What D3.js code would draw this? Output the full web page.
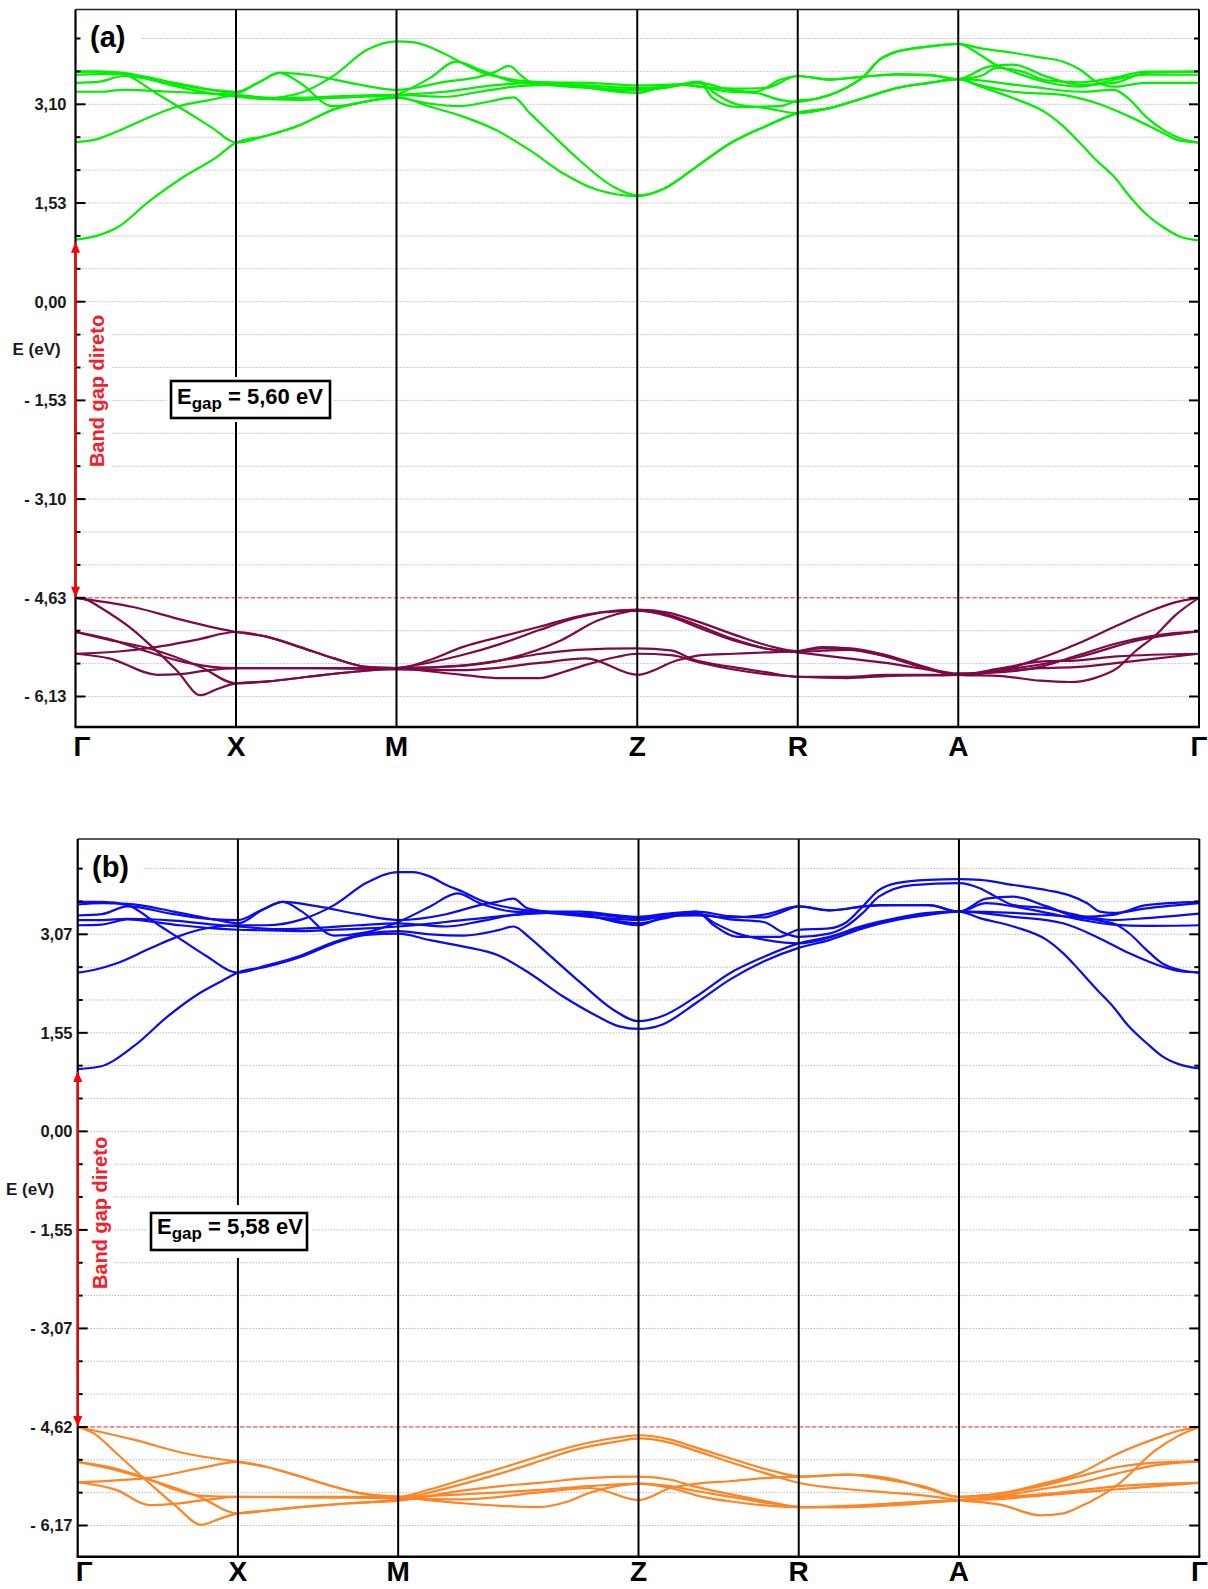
<!DOCTYPE html>
<html><head><meta charset="utf-8">
<script src="https://cdn.jsdelivr.net/npm/d3@7"></script>
<style>body{margin:0;background:#fff}svg{display:block}</style>
</head><body>
<svg id="chart" width="1208" height="1589"></svg>
<script>
// ---------------- DATA ----------------
const kLabels = ["Γ","X","M","Z","R","A","Γ"];
const kPositions = [0, 1, 2, 3.5, 4.5, 5.5, 7];

const tickValuesA = [3.10, 1.53, 0, -1.53, -3.10, -4.63, -6.13];
const tickLabelsA = ["3,10", "1,53", "0,00", "- 1,53", "- 3,10", "- 4,63", "- 6,13"];
const tickValuesB = [3.07, 1.55, 0, -1.55, -3.07, -4.62, -6.17];
const tickLabelsB = ["3,07", "1,55", "0,00", "- 1,55", "- 3,07", "- 4,62", "- 6,17"];

const gapEdgesA = [0.96, -4.63];   // CBM, VBM at Γ
const gapEdgesB = [0.98, -4.62];
const gapTextA = "5,60";
const gapTextB = "5,58";
const panelLabels = ["(a)", "(b)"];

// Conduction bands, panel (a): [k, E(eV)]
const conductionA = [
 [[0,0.96],[0.13,1.02],[0.26,1.15],[0.46,1.56],[0.67,1.94],[0.88,2.26],[1,2.49],[1.19,2.60],[1.4,2.77],[1.6,3.01],[1.8,3.14],[2,3.22],[2.21,3.06],[2.42,2.90],[2.62,2.69],[2.83,2.37],[3.04,2.00],[3.25,1.74],[3.5,1.64],[3.66,1.75],[3.87,2.11],[4.08,2.48],[4.29,2.74],[4.5,2.96],[4.7,3.04],[4.91,3.20],[5.12,3.36],[5.32,3.44],[5.5,3.50],[5.64,3.38],[5.84,3.20],[6.05,2.96],[6.15,2.76],[6.26,2.48],[6.36,2.21],[6.47,1.95],[6.57,1.63],[6.67,1.36],[6.78,1.15],[6.88,1.01],[7,0.95]],
 [[0,2.50],[0.11,2.53],[0.25,2.66],[0.42,2.85],[0.63,3.06],[0.84,3.17],[1,3.24],[1.19,3.20],[1.4,3.28],[1.6,3.54],[1.82,3.97],[2,4.10],[2.1,4.09],[2.31,3.89],[2.37,3.81],[2.52,3.62],[2.73,3.49],[2.94,3.44],[3.14,3.41],[3.5,3.36],[3.66,3.38],[3.89,3.44],[4.08,3.33],[4.24,3.30],[4.39,3.49],[4.5,3.55],[4.7,3.49],[4.91,3.54],[5.12,3.58],[5.32,3.57],[5.5,3.50],[5.69,3.70],[5.84,3.73],[6.05,3.54],[6.26,3.41],[6.47,3.44],[6.67,3.60],[7,3.62]],
 [[0,3.62],[0.15,3.62],[0.3,3.58],[0.5,3.28],[0.7,2.97],[0.85,2.73],[1,2.49],[1.19,2.60],[1.4,2.77],[1.6,3.01],[1.8,3.14],[2,3.20],[2.21,3.11],[2.39,3.07],[2.57,3.14],[2.73,3.21],[2.83,2.96],[2.94,2.69],[3.14,2.21],[3.35,1.79],[3.5,1.65],[3.66,1.75],[3.87,2.11],[4.08,2.48],[4.29,2.74],[4.5,2.96],[4.7,3.04],[4.91,3.20],[5.12,3.36],[5.32,3.44],[5.5,3.50],[5.64,3.40],[5.84,3.30],[6.15,3.25],[6.36,3.12],[6.57,2.90],[6.78,2.64],[6.88,2.52],[7,2.49]],
 [[0,3.57],[0.15,3.58],[0.3,3.58],[0.6,3.45],[0.85,3.33],[1,3.28],[1.15,3.46],[1.27,3.60],[1.4,3.44],[1.6,3.07],[1.8,3.14],[2,3.25],[2.21,3.52],[2.37,3.78],[2.52,3.65],[2.73,3.46],[2.94,3.41],[3.2,3.36],[3.5,3.33],[3.66,3.36],[3.89,3.44],[3.97,3.20],[4.12,3.06],[4.39,3.07],[4.5,3.16],[4.6,3.18],[4.7,3.25],[4.8,3.36],[4.91,3.54],[5.01,3.81],[5.12,3.94],[5.22,3.99],[5.32,4.02],[5.5,4.06],[5.64,3.99],[5.84,3.92],[6.0,3.85],[6.15,3.78],[6.26,3.65],[6.36,3.46],[6.47,3.38],[6.67,3.44],[7,3.44]],
 [[0,3.44],[0.15,3.46],[0.3,3.55],[0.6,3.42],[0.85,3.33],[1,3.30],[1.15,3.46],[1.27,3.60],[1.5,3.55],[1.75,3.42],[2,3.33],[2.31,3.46],[2.52,3.54],[2.62,3.62],[2.70,3.71],[2.78,3.55],[2.83,3.46],[2.94,3.44],[3.14,3.38],[3.5,3.28],[3.66,3.38],[3.77,3.41],[3.89,3.38],[4.08,3.30],[4.24,3.28],[4.39,3.17],[4.5,3.14],[4.6,3.18],[4.7,3.25],[4.8,3.36],[4.91,3.54],[5.01,3.81],[5.12,3.94],[5.22,3.99],[5.32,4.02],[5.5,4.06],[5.64,3.88],[5.74,3.72],[5.84,3.62],[6.05,3.45],[6.26,3.38],[6.47,3.49],[6.67,3.57],[7,3.57]],
 [[0,3.30],[0.15,3.30],[0.3,3.33],[0.6,3.30],[0.85,3.27],[1,3.25],[1.25,3.20],[1.5,3.21],[1.75,3.24],[2,3.25],[2.31,3.22],[2.52,3.30],[2.73,3.38],[2.94,3.41],[3.14,3.38],[3.5,3.32],[3.66,3.36],[3.89,3.46],[3.97,3.30],[4.12,3.10],[4.3,3.04],[4.5,2.96],[4.7,3.04],[4.91,3.20],[5.12,3.36],[5.32,3.44],[5.5,3.50],[5.95,3.38],[6.26,3.30],[6.47,3.33],[6.57,3.17],[6.67,2.90],[6.78,2.69],[6.88,2.56],[7,2.49]],
 [[0,3.62],[0.15,3.62],[0.3,3.60],[0.6,3.40],[0.85,3.27],[1,3.22],[1.19,3.18],[1.4,3.17],[1.6,3.20],[1.8,3.22],[2,3.25],[2.3,3.30],[2.6,3.40],[2.94,3.45],[3.2,3.44],[3.5,3.40],[3.66,3.41],[3.77,3.42],[3.89,3.38],[4.1,3.35],[4.3,3.36],[4.5,3.55],[4.7,3.50],[4.91,3.54],[5.12,3.57],[5.32,3.56],[5.5,3.50],[5.64,3.55],[5.74,3.68],[5.9,3.62],[6.05,3.48],[6.26,3.45],[6.47,3.52],[6.67,3.62],[7,3.62]]
];

// Valence bands, panel (a)
const valenceA = [
 [[0,-4.63],[0.36,-4.77],[0.67,-4.97],[1,-5.15],[1.19,-5.22],[1.4,-5.38],[1.61,-5.55],[1.81,-5.68],[2,-5.70],[2.2,-5.58],[2.41,-5.38],[2.65,-5.22],[2.89,-5.07],[3.1,-4.93],[3.27,-4.85],[3.5,-4.81],[3.7,-4.86],[3.85,-4.97],[4.14,-5.22],[4.35,-5.38],[4.5,-5.44],[4.65,-5.40],[4.81,-5.40],[5.05,-5.50],[5.29,-5.68],[5.5,-5.80],[5.77,-5.73],[6.01,-5.55],[6.25,-5.32],[6.49,-5.05],[6.73,-4.80],[6.85,-4.70],[7,-4.63]],
 [[0,-4.63],[0.08,-4.67],[0.15,-4.77],[0.36,-5.12],[0.48,-5.38],[0.63,-5.73],[0.78,-6.11],[0.88,-6.02],[1,-5.93],[1.2,-5.90],[1.45,-5.83],[1.75,-5.75],[2,-5.70],[2.41,-5.50],[2.65,-5.33],[2.89,-5.12],[3.13,-4.93],[3.3,-4.85],[3.5,-4.83],[3.71,-4.90],[3.85,-5.02],[4.09,-5.25],[4.3,-5.40],[4.5,-5.46],[4.81,-5.55],[5.05,-5.62],[5.3,-5.72],[5.5,-5.80],[5.77,-5.82],[6.01,-5.89],[6.2,-5.91],[6.35,-5.85],[6.49,-5.70],[6.6,-5.45],[6.73,-5.20],[6.85,-4.90],[7,-4.63]],
 [[0,-5.15],[0.21,-5.27],[0.46,-5.40],[0.78,-5.68],[1,-5.93],[1.2,-5.90],[1.45,-5.83],[1.75,-5.75],[2,-5.70],[2.3,-5.68],[2.65,-5.58],[3.03,-5.27],[3.25,-4.98],[3.37,-4.88],[3.5,-4.82],[3.71,-4.92],[3.9,-5.10],[4.1,-5.28],[4.3,-5.40],[4.5,-5.45],[4.81,-5.42],[5.05,-5.52],[5.3,-5.70],[5.5,-5.80],[5.77,-5.73],[6.25,-5.53],[6.63,-5.27],[7,-5.14]],
 [[0,-5.15],[0.2,-5.25],[0.45,-5.45],[0.7,-5.62],[0.85,-5.68],[1,-5.70],[1.5,-5.70],[2,-5.70],[2.4,-5.66],[2.65,-5.58],[2.9,-5.48],[3.13,-5.42],[3.5,-5.40],[3.71,-5.43],[3.85,-5.57],[4.09,-5.68],[4.3,-5.76],[4.5,-5.83],[4.81,-5.83],[5.05,-5.80],[5.3,-5.80],[5.5,-5.80],[5.77,-5.75],[6.01,-5.70],[6.25,-5.68],[6.63,-5.58],[7,-5.48]],
 [[0,-5.48],[0.25,-5.45],[0.5,-5.38],[0.75,-5.27],[1,-5.15],[1.19,-5.22],[1.4,-5.38],[1.61,-5.55],[1.81,-5.68],[2,-5.70],[2.41,-5.80],[2.65,-5.85],[2.89,-5.85],[3.05,-5.75],[3.18,-5.65],[3.37,-5.53],[3.5,-5.48],[3.71,-5.50],[3.9,-5.62],[4.1,-5.72],[4.3,-5.79],[4.5,-5.83],[4.81,-5.85],[5.05,-5.82],[5.5,-5.80],[5.77,-5.70],[6.01,-5.60],[6.25,-5.58],[6.49,-5.52],[7,-5.48]],
 [[0,-5.48],[0.21,-5.55],[0.51,-5.80],[0.65,-5.79],[0.8,-5.74],[1,-5.70],[1.5,-5.70],[2,-5.72],[2.41,-5.73],[2.89,-5.62],[3.18,-5.55],[3.5,-5.80],[3.75,-5.58],[3.9,-5.50],[4.1,-5.48],[4.3,-5.46],[4.5,-5.44],[4.65,-5.38],[4.81,-5.40],[5.05,-5.52],[5.3,-5.70],[5.5,-5.78],[5.77,-5.76],[6.01,-5.68],[6.25,-5.50],[6.49,-5.32],[6.73,-5.20],[7,-5.14]]
];

// Conduction bands, panel (b)
const conductionB = [
 [[0,0.98],[0.14,1.02],[0.35,1.34],[0.56,1.80],[0.76,2.16],[0.9,2.35],[1,2.48],[1.18,2.57],[1.39,2.72],[1.6,2.93],[1.8,3.06],[2,3.08],[2.2,2.98],[2.41,2.88],[2.62,2.75],[2.82,2.47],[3.03,2.11],[3.24,1.81],[3.38,1.65],[3.5,1.61],[3.65,1.68],[3.86,2.01],[4.07,2.37],[4.28,2.65],[4.5,2.86],[4.69,2.98],[4.9,3.16],[5.11,3.29],[5.31,3.37],[5.5,3.42],[5.63,3.32],[5.84,3.19],[6.05,2.98],[6.15,2.78],[6.25,2.52],[6.36,2.22],[6.46,1.96],[6.56,1.65],[6.67,1.39],[6.77,1.18],[6.88,1.05],[7,0.99]],
 [[0,2.48],[0.1,2.52],[0.24,2.62],[0.45,2.85],[0.62,3.03],[0.76,3.14],[1,3.21],[1.18,3.21],[1.4,3.30],[1.6,3.52],[1.8,3.86],[2,4.03],[2.09,4.03],[2.2,3.96],[2.3,3.83],[2.41,3.72],[2.51,3.60],[2.72,3.47],[2.93,3.42],[3.14,3.42],[3.34,3.37],[3.5,3.34],[3.65,3.38],[3.86,3.42],[4.07,3.35],[4.28,3.33],[4.4,3.42],[4.5,3.50],[4.69,3.44],[5.0,3.52],[5.31,3.52],[5.5,3.42],[5.67,3.62],[5.84,3.65],[6.05,3.50],[6.25,3.34],[6.46,3.37],[6.67,3.52],[7,3.57]],
 [[0,3.57],[0.15,3.57],[0.31,3.52],[0.5,3.22],[0.62,3.03],[0.8,2.74],[1,2.48],[1.18,2.59],[1.39,2.74],[1.6,2.95],[1.8,3.08],[2,3.12],[2.2,3.07],[2.41,3.05],[2.62,3.13],[2.72,3.19],[2.82,3.02],[2.93,2.78],[3.14,2.32],[3.34,1.91],[3.5,1.73],[3.65,1.81],[3.86,2.11],[4.07,2.47],[4.28,2.72],[4.5,2.93],[4.69,3.03],[4.9,3.20],[5.11,3.32],[5.31,3.40],[5.5,3.42],[5.84,3.34],[6.15,3.24],[6.36,3.03],[6.56,2.78],[6.77,2.57],[6.88,2.50],[7,2.48]],
 [[0,3.53],[0.15,3.55],[0.31,3.54],[0.6,3.42],[0.85,3.30],[1,3.24],[1.15,3.44],[1.28,3.57],[1.4,3.42],[1.6,3.05],[1.8,3.10],[2,3.26],[2.2,3.50],[2.37,3.70],[2.51,3.55],[2.72,3.42],[2.93,3.40],[3.2,3.34],[3.5,3.29],[3.65,3.35],[3.86,3.42],[3.97,3.21],[4.12,3.03],[4.38,3.03],[4.5,3.14],[4.69,3.16],[4.8,3.26],[4.9,3.50],[5.0,3.75],[5.11,3.86],[5.31,3.91],[5.5,3.92],[5.63,3.91],[5.84,3.83],[6.05,3.75],[6.19,3.67],[6.3,3.55],[6.38,3.42],[6.46,3.40],[6.67,3.47],[7,3.55]],
 [[0,3.36],[0.15,3.38],[0.31,3.50],[0.6,3.38],[0.85,3.30],[1,3.29],[1.15,3.45],[1.28,3.57],[1.5,3.50],[1.75,3.38],[2,3.29],[2.3,3.38],[2.51,3.52],[2.62,3.57],[2.72,3.62],[2.8,3.48],[2.93,3.42],[3.14,3.38],[3.5,3.21],[3.65,3.33],[3.86,3.38],[4.07,3.30],[4.28,3.26],[4.4,3.10],[4.5,3.03],[4.69,3.08],[4.8,3.20],[4.9,3.40],[5.0,3.65],[5.21,3.83],[5.5,3.86],[5.63,3.78],[5.73,3.65],[5.84,3.52],[6.05,3.47],[6.25,3.36],[6.46,3.29],[6.67,3.32],[7,3.39]],
 [[0,3.29],[0.15,3.29],[0.31,3.31],[0.6,3.28],[0.85,3.22],[1,3.19],[1.25,3.15],[1.5,3.17],[1.75,3.21],[2,3.24],[2.3,3.19],[2.51,3.27],[2.72,3.37],[2.93,3.40],[3.14,3.37],[3.5,3.24],[3.65,3.31],[3.86,3.40],[3.97,3.25],[4.12,3.08],[4.3,2.98],[4.5,2.93],[4.69,3.02],[4.9,3.18],[5.11,3.31],[5.31,3.39],[5.5,3.42],[5.84,3.40],[6.05,3.37],[6.46,3.24],[6.56,3.09],[6.67,2.83],[6.77,2.62],[6.88,2.52],[7,2.48]],
 [[0,3.21],[0.15,3.22],[0.31,3.30],[0.6,3.22],[0.85,3.16],[1,3.14],[1.2,3.13],[1.4,3.12],[1.6,3.14],[1.8,3.16],[2,3.19],[2.3,3.26],[2.6,3.34],[2.93,3.40],[3.2,3.38],[3.5,3.32],[3.65,3.35],[3.86,3.36],[4.1,3.33],[4.3,3.38],[4.5,3.50],[4.69,3.44],[4.9,3.50],[5.11,3.52],[5.31,3.52],[5.5,3.42],[5.67,3.55],[5.84,3.50],[6.05,3.40],[6.25,3.30],[6.46,3.22],[6.67,3.20],[7,3.21]]
];

// Valence bands, panel (b)
const valenceB = [
 [[0,-4.62],[0.35,-4.82],[0.66,-5.03],[1,-5.17],[1.18,-5.25],[1.39,-5.40],[1.6,-5.56],[1.76,-5.66],[2,-5.72],[2.2,-5.60],[2.4,-5.45],[2.64,-5.27],[2.88,-5.08],[3.1,-4.92],[3.36,-4.79],[3.5,-4.75],[3.7,-4.82],[3.84,-4.93],[4.08,-5.12],[4.32,-5.30],[4.52,-5.40],[4.81,-5.37],[5.05,-5.45],[5.29,-5.56],[5.5,-5.72],[5.77,-5.66],[6.01,-5.52],[6.25,-5.35],[6.49,-5.04],[6.73,-4.80],[6.87,-4.68],[7,-4.62]],
 [[0,-4.62],[0.1,-4.72],[0.24,-5.03],[0.45,-5.51],[0.62,-5.88],[0.77,-6.16],[0.88,-6.07],[1,-5.98],[1.2,-5.93],[1.39,-5.88],[1.7,-5.82],[2,-5.76],[2.2,-5.65],[2.4,-5.52],[2.64,-5.35],[2.88,-5.16],[3.1,-4.98],[3.36,-4.85],[3.5,-4.80],[3.7,-4.87],[3.84,-4.98],[4.08,-5.18],[4.32,-5.37],[4.52,-5.51],[4.81,-5.60],[5.05,-5.65],[5.29,-5.70],[5.5,-5.77],[5.77,-5.85],[6.01,-6.01],[6.15,-5.98],[6.25,-5.88],[6.49,-5.53],[6.73,-4.98],[6.87,-4.76],[7,-4.62]],
 [[0,-5.17],[0.24,-5.30],[0.45,-5.45],[0.76,-5.72],[1,-5.98],[1.2,-5.93],[1.39,-5.88],[1.7,-5.82],[2,-5.78],[2.4,-5.62],[2.64,-5.55],[2.88,-5.50],[3.2,-5.42],[3.5,-5.40],[3.7,-5.45],[3.84,-5.55],[4.08,-5.68],[4.32,-5.80],[4.52,-5.88],[4.81,-5.88],[5.1,-5.85],[5.5,-5.77],[5.77,-5.70],[6.01,-5.60],[6.25,-5.50],[6.49,-5.35],[6.73,-5.22],[7,-5.16]],
 [[0,-5.17],[0.24,-5.28],[0.45,-5.45],[0.6,-5.60],[0.76,-5.70],[1,-5.72],[1.5,-5.72],[2,-5.72],[2.4,-5.68],[2.64,-5.65],[2.88,-5.61],[3.2,-5.55],[3.5,-5.51],[3.7,-5.55],[3.84,-5.62],[4.08,-5.72],[4.32,-5.82],[4.52,-5.88],[4.81,-5.86],[5.1,-5.82],[5.5,-5.77],[5.77,-5.75],[6.01,-5.70],[6.25,-5.65],[6.49,-5.60],[6.73,-5.55],[7,-5.50]],
 [[0,-5.49],[0.24,-5.46],[0.45,-5.42],[0.76,-5.27],[1,-5.17],[1.18,-5.25],[1.39,-5.40],[1.6,-5.56],[1.76,-5.66],[2,-5.72],[2.4,-5.82],[2.64,-5.86],[2.88,-5.88],[3.05,-5.80],[3.2,-5.65],[3.36,-5.55],[3.5,-5.51],[3.7,-5.58],[3.9,-5.72],[4.1,-5.80],[4.32,-5.86],[4.52,-5.88],[4.81,-5.88],[5.1,-5.82],[5.5,-5.77],[5.77,-5.72],[6.01,-5.68],[6.25,-5.62],[6.49,-5.55],[7,-5.50]],
 [[0,-5.49],[0.24,-5.61],[0.45,-5.85],[0.6,-5.83],[0.76,-5.78],[1,-5.72],[1.5,-5.73],[2,-5.74],[2.4,-5.76],[2.88,-5.65],[3.2,-5.58],[3.5,-5.77],[3.7,-5.58],[3.84,-5.52],[4.08,-5.47],[4.32,-5.42],[4.52,-5.40],[4.81,-5.37],[5.05,-5.42],[5.29,-5.58],[5.5,-5.72],[5.77,-5.66],[6.01,-5.55],[6.25,-5.40],[6.49,-5.25],[6.73,-5.18],[7,-5.16]]
];

// ---------------- LAYOUT / STYLE ----------------
const FONT = "'Liberation Sans', Arial, Helvetica, sans-serif";
const panels = [
 { id:"a", left:75.5, right:1199, top:9.5, bottom:727, tickTop:104.3, tickBottom:696.5,
   labelX:66.5, eLabel:[12.5,355], kLabelY:756, panelLabel:[90,47],
   gapTextPos:[103.5,391], gapBg:[84,311,27,162],
   box:[171,381,159,37], boxPad:4, boxText:[177,403.5],
   condColor:"#00f000", valColor:"#7d0a45",
   cond:conductionA, val:valenceA, ticks:tickValuesA, tickLabels:tickLabelsA, edges:gapEdgesA, gap:gapTextA, name:panelLabels[0] },
 { id:"b", left:77.7, right:1199.3, top:839, bottom:1556.7, tickTop:934.3, tickBottom:1525.5,
   labelX:72.5, eLabel:[6,1195], kLabelY:1581, panelLabel:[92,877],
   gapTextPos:[106.5,1213], gapBg:[87,1133,27,162],
   box:[151,1213,156,37], boxPad:8, boxText:[157,1234],
   condColor:"#0a0af5", valColor:"#ff8424",
   cond:conductionB, val:valenceB, ticks:tickValuesB, tickLabels:tickLabelsB, edges:gapEdgesB, gap:gapTextB, name:panelLabels[1] }
];

const svg = d3.select("#chart");
svg.append("rect").attr("width",1208).attr("height",1589).attr("fill","#fff");
const defs = svg.append("defs");

panels.forEach(P => {
  const x = d3.scaleLinear().domain([kPositions[0], kPositions[kPositions.length-1]]).range([P.left, P.right]);
  const n = P.ticks.length;
  const step = (P.tickBottom - P.tickTop) / (n - 1);
  const y = d3.scaleLinear().domain(P.ticks).range(P.ticks.map((_, i) => P.tickTop + i * step));
  const g = svg.append("g");

  defs.append("clipPath").attr("id", "clip" + P.id).append("rect")
    .attr("x", P.left).attr("y", P.top).attr("width", P.right - P.left).attr("height", P.bottom - P.top);

  // grid (minor every third of a major step)
  const gridIdx = d3.range(-2, 3 * (n - 1) + 1);
  const gridVals = gridIdx.map(j => y.invert(P.tickTop + j * step / 3));
  g.append("g").selectAll("line").data(gridVals).join("line")
    .attr("x1", P.left + 7).attr("x2", P.right - 7)
    .attr("y1", d => y(d)).attr("y2", d => y(d))
    .attr("stroke", "#9a9a9a").attr("stroke-width", 1).attr("stroke-dasharray", "1,2");

  // white backgrounds behind labels
  g.append("rect").attr("x", P.left + 6).attr("y", P.panelLabel[1] - 24).attr("width", 60).attr("height", 34).attr("fill", "#fff");
  g.append("rect").attr("x", P.gapBg[0]).attr("y", P.gapBg[1]).attr("width", P.gapBg[2]).attr("height", P.gapBg[3]).attr("fill", "#fff");

  // bands
  const line = d3.line().x(d => x(d[0])).y(d => y(d[1])).curve(d3.curveMonotoneX);
  const bandG = g.append("g").attr("clip-path", "url(#clip" + P.id + ")").attr("fill", "none")
    .attr("stroke-width", 2.2).attr("stroke-linejoin", "round").attr("stroke-linecap", "round");
  bandG.selectAll("path.c").data(P.cond).join("path").attr("class", "c").attr("d", line).attr("stroke", P.condColor);
  bandG.selectAll("path.v").data(P.val).join("path").attr("class", "v").attr("d", line).attr("stroke", P.valColor);

  // VBM dashed line
  g.append("line").attr("x1", P.left).attr("x2", P.right)
    .attr("y1", y(P.edges[1])).attr("y2", y(P.edges[1]))
    .attr("stroke", "#ff2a2a").attr("stroke-width", 1).attr("stroke-dasharray", "4,2.5");

  // high-symmetry vertical lines
  g.append("g").selectAll("line").data(kPositions.slice(1, -1)).join("line")
    .attr("x1", d => x(d)).attr("x2", d => x(d)).attr("y1", P.top).attr("y2", P.bottom)
    .attr("stroke", "#000").attr("stroke-width", 2);

  // frame
  g.append("line").attr("x1", P.left).attr("x2", P.right).attr("y1", P.top).attr("y2", P.top).attr("stroke", "#222").attr("stroke-width", 1.5);
  g.append("line").attr("x1", P.right).attr("x2", P.right).attr("y1", P.top).attr("y2", P.bottom).attr("stroke", "#000").attr("stroke-width", 2);
  g.append("line").attr("x1", P.left).attr("x2", P.left).attr("y1", P.top).attr("y2", P.bottom).attr("stroke", "#000").attr("stroke-width", 2.2);
  g.append("line").attr("x1", P.left - 1).attr("x2", P.right + 1).attr("y1", P.bottom).attr("y2", P.bottom).attr("stroke", "#000").attr("stroke-width", 2.6);

  // axis ticks (inside, both sides)
  const tickLen = (d, i) => ((gridIdx[i] % 3 === 0 && gridIdx[i] >= 0) ? 10 : 5);
  g.append("g").selectAll("line").data(gridVals).join("line")
    .attr("x1", P.left).attr("x2", (d, i) => P.left + tickLen(d, i))
    .attr("y1", d => y(d)).attr("y2", d => y(d)).attr("stroke", "#000").attr("stroke-width", 2);
  g.append("g").selectAll("line").data(gridVals).join("line")
    .attr("x1", P.right).attr("x2", (d, i) => P.right - tickLen(d, i))
    .attr("y1", d => y(d)).attr("y2", d => y(d)).attr("stroke", "#000").attr("stroke-width", 2);

  // tick labels
  g.append("g").selectAll("text").data(P.ticks).join("text")
    .attr("x", P.labelX).attr("y", d => y(d)).attr("dy", "0.36em")
    .attr("text-anchor", "end").attr("font-family", FONT).attr("font-weight", "bold")
    .attr("font-size", 16.5).attr("fill", "#1a1a1a")
    .text((d, i) => P.tickLabels[i]);

  // E (eV)
  g.append("text").attr("x", P.eLabel[0]).attr("y", P.eLabel[1])
    .attr("font-family", FONT).attr("font-weight", "bold").attr("font-size", 17).attr("fill", "#1a1a1a").text("E (eV)");

  // k-point labels
  g.append("g").selectAll("text").data(kPositions).join("text")
    .attr("x", (d, i) => i === 0 ? P.left - 2 : x(d))
    .attr("y", P.kLabelY)
    .attr("text-anchor", (d, i) => i === 0 ? "start" : "middle")
    .attr("font-family", FONT).attr("font-weight", "bold").attr("font-size", 28).attr("fill", "#000")
    .text((d, i) => kLabels[i]);

  // panel label
  g.append("text").attr("x", P.panelLabel[0]).attr("y", P.panelLabel[1])
    .attr("font-family", FONT).attr("font-weight", "bold").attr("font-size", 29).attr("fill", "#000").text(P.name);

  // Egap box
  const [bx, by, bw, bh] = P.box;
  g.append("rect").attr("x", bx - 4).attr("y", by - P.boxPad).attr("width", bw + 8).attr("height", bh + 2 * P.boxPad).attr("fill", "#fff");
  g.append("rect").attr("x", bx).attr("y", by).attr("width", bw).attr("height", bh)
    .attr("fill", "#fff").attr("stroke", "#000").attr("stroke-width", 2.6);
  const bt = g.append("text").attr("x", P.boxText[0]).attr("y", P.boxText[1])
    .attr("font-family", FONT).attr("font-weight", "bold").attr("fill", "#000");
  bt.append("tspan").attr("font-size", 22).text("E");
  bt.append("tspan").attr("font-size", 17).attr("dy", 5).text("gap");
  bt.append("tspan").attr("font-size", 22).attr("dy", -5).text(" = " + P.gap + " eV");

  // red band-gap arrow
  const ax = P.left;
  const yTop = y(P.edges[0]) + 2, yBot = y(P.edges[1]);
  g.append("line").attr("x1", ax).attr("x2", ax).attr("y1", yTop + 8).attr("y2", yBot - 8)
    .attr("stroke", "#ff0000").attr("stroke-width", 2.2);
  g.append("path").attr("d", `M${ax},${yTop} L${ax - 4.5},${yTop + 11} L${ax + 4.5},${yTop + 11} Z`).attr("fill", "#ff0000");
  g.append("path").attr("d", `M${ax},${yBot} L${ax - 4.5},${yBot - 11} L${ax + 4.5},${yBot - 11} Z`).attr("fill", "#ff0000");

  // Band gap direto
  g.append("text").attr("transform", `translate(${P.gapTextPos[0]},${P.gapTextPos[1]}) rotate(-90)`)
    .attr("text-anchor", "middle").attr("font-family", FONT).attr("font-weight", "bold")
    .attr("font-size", 20).attr("fill", "#f2202a").text("Band gap direto");
});
</script>
</body></html>
